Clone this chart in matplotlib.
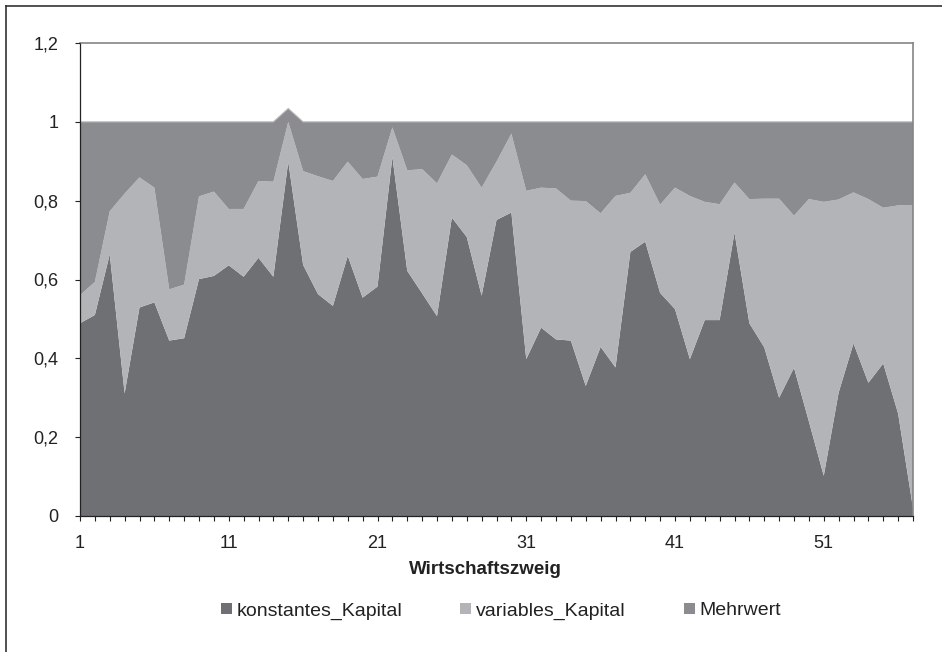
import matplotlib
matplotlib.use("Agg")
import matplotlib.pyplot as plt
from matplotlib.patches import Patch
from matplotlib.lines import Line2D
import numpy as np

plt.rcParams['font.family'] = ['Liberation Sans', 'DejaVu Sans']

branches = list(range(1, 58))
konstantes_Kapital = [0.489, 0.510, 0.664, 0.311, 0.529, 0.542, 0.445, 0.451, 0.601, 0.609,
                      0.636, 0.607, 0.655, 0.607, 0.899, 0.637, 0.563, 0.533, 0.660, 0.554,
                      0.582, 0.911, 0.622, 0.565, 0.507, 0.757, 0.708, 0.559, 0.751, 0.770,
                      0.398, 0.478, 0.448, 0.445, 0.330, 0.429, 0.377, 0.670, 0.696, 0.566,
                      0.525, 0.398, 0.497, 0.497, 0.719, 0.489, 0.428, 0.300, 0.376, 0.240,
                      0.102, 0.313, 0.438, 0.338, 0.387, 0.260, 0.020]
variables_Kapital = [0.071, 0.084, 0.109, 0.507, 0.330, 0.291, 0.130, 0.136, 0.210, 0.214,
                     0.143, 0.172, 0.195, 0.241, 0.101, 0.238, 0.299, 0.317, 0.239, 0.301,
                     0.279, 0.075, 0.255, 0.315, 0.337, 0.160, 0.182, 0.274, 0.148, 0.200,
                     0.427, 0.355, 0.383, 0.355, 0.469, 0.339, 0.435, 0.150, 0.171, 0.224,
                     0.308, 0.414, 0.300, 0.294, 0.127, 0.315, 0.377, 0.505, 0.386, 0.564,
                     0.695, 0.490, 0.383, 0.466, 0.395, 0.528, 0.768]
Mehrwert = [0.440, 0.406, 0.227, 0.182, 0.141, 0.167, 0.425, 0.413, 0.189, 0.177,
            0.221, 0.221, 0.150, 0.152, 0.034, 0.125, 0.138, 0.150, 0.101, 0.145,
            0.139, 0.014, 0.123, 0.120, 0.156, 0.083, 0.110, 0.167, 0.101, 0.030,
            0.175, 0.167, 0.169, 0.200, 0.201, 0.232, 0.188, 0.180, 0.133, 0.210,
            0.167, 0.188, 0.203, 0.209, 0.154, 0.196, 0.195, 0.195, 0.238, 0.196,
            0.203, 0.197, 0.179, 0.196, 0.218, 0.212, 0.212]
series_names = ['konstantes_Kapital', 'variables_Kapital', 'Mehrwert']
colors = ['#6f7074', '#b3b4b8', '#8b8c90']
yticks = [0, 0.2, 0.4, 0.6, 0.8, 1.0, 1.2]
ytick_labels = ['0', '0,2', '0,4', '0,6', '0,8', '1', '1,2']
xlabel = 'Wirtschaftszweig'

W, H = 942, 652
fig = plt.figure(figsize=(W / 100, H / 100), dpi=100)
ax = fig.add_axes([80 / W, 1 - 516 / H, (913 - 80) / W, (516 - 43) / H])

ax.stackplot(branches, konstantes_Kapital, variables_Kapital, Mehrwert,
             colors=colors, linewidth=0)
total = np.array(konstantes_Kapital) + np.array(variables_Kapital) + np.array(Mehrwert)
ax.plot(branches, total, color='#bdbdc0', lw=0.8)

ax.set_xlim(branches[0], branches[-1])
ax.set_ylim(0, 1.2)
ax.set_yticks(yticks)
ax.set_yticklabels(ytick_labels, fontsize=13)
ax.set_xticks(branches)
ax.set_xticklabels([str(b) if (b - 1) % 10 == 0 else '' for b in branches], fontsize=13)
ax.tick_params(axis='y', direction='out', length=3.6, width=0.8, pad=12, colors='#222222')
ax.tick_params(axis='x', direction='out', length=3.6, width=0.8, pad=10, colors='#222222')

for s in ['left', 'bottom']:
    ax.spines[s].set_color('#222222')
    ax.spines[s].set_linewidth(0.9)
for s in ['top', 'right']:
    ax.spines[s].set_color('#858585')
    ax.spines[s].set_linewidth(1.2)
ax.set_axisbelow(False)

fig.text(485 / W, 1 - 570 / H, xlabel, ha='center', va='center',
         fontsize=13.5, fontweight='bold', color='#222222')

handles = [Patch(facecolor=c, edgecolor='none') for c in colors]
fig.legend(handles, series_names, loc='center', bbox_to_anchor=(501 / W, 1 - 611 / H),
           ncol=3, frameon=False, fontsize=14, handlelength=0.55, handleheight=0.55,
           handletextpad=0.25, columnspacing=3.0, labelcolor='#222222')

# outer chart frame (left and top visible)
fig.add_artist(Line2D([6 / W, 6 / W], [0, 1 - 6 / H], color='#333333', lw=1.2))
fig.add_artist(Line2D([6 / W, 1], [1 - 6 / H, 1 - 6 / H], color='#333333', lw=1.2))

fig.savefig('out.png', dpi=100)
